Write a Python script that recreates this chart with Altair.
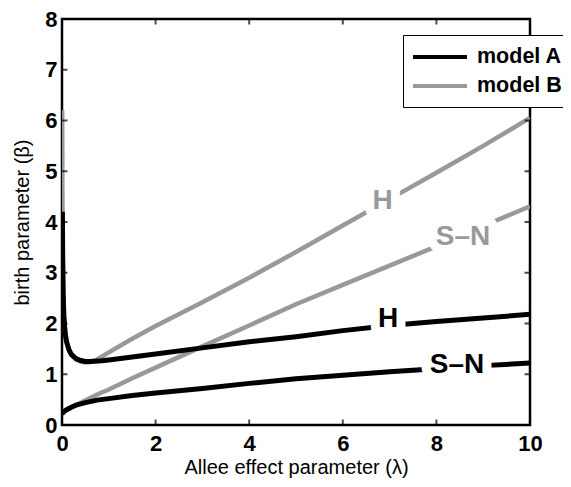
import altair as alt
import pandas as pd

# ---- curve data ----
# model A, Hopf curve (H)
a_h_x = [0.008, 0.015, 0.025, 0.04, 0.06, 0.08, 0.1, 0.15, 0.2, 0.3, 0.4, 0.5, 0.6, 0.7,
         0.85, 1.0, 1.5, 2.0, 3.0, 4.0, 5.0, 6.0, 7.0, 8.0, 9.0, 10.0]
a_h_y = [4.2, 3.3, 2.6, 2.15, 1.88, 1.73, 1.63, 1.48, 1.39, 1.31, 1.27, 1.25, 1.25, 1.255,
         1.265, 1.28, 1.34, 1.40, 1.52, 1.64, 1.74, 1.86, 1.96, 2.04, 2.11, 2.18]
# model A, saddle-node curve (S-N)
a_sn_x = [0.0, 0.05, 0.1, 0.2, 0.3, 0.5, 0.75, 1.0, 1.5, 2.0, 3.0, 4.0, 5.0, 6.0, 7.0, 8.0, 9.0, 10.0]
a_sn_y = [0.22, 0.27, 0.30, 0.35, 0.39, 0.44, 0.49, 0.52, 0.58, 0.63, 0.72, 0.82, 0.91, 0.98,
          1.05, 1.11, 1.17, 1.22]
# model B, Hopf curve (H)
b_h_x = [0.004, 0.008, 0.015, 0.025, 0.04, 0.06, 0.08, 0.1, 0.15, 0.2, 0.3, 0.4, 0.5, 0.6,
         0.75, 1.0, 1.5, 2.0, 3.0, 4.0, 5.0, 6.0, 7.0, 8.0, 9.0, 10.0]
b_h_y = [6.2, 4.6, 3.5, 2.75, 2.2, 1.9, 1.74, 1.63, 1.47, 1.38, 1.29, 1.25, 1.23, 1.24,
         1.29, 1.43, 1.70, 1.95, 2.42, 2.90, 3.41, 3.93, 4.45, 4.97, 5.50, 6.05]
# model B, saddle-node curve (S-N)
b_sn_x = [0.0, 0.1, 0.2, 0.4, 0.6, 0.8, 1.0, 1.5, 2.0, 3.0, 4.0, 5.0, 6.0, 7.0, 8.0, 9.0, 10.0]
b_sn_y = [0.25, 0.30, 0.35, 0.44, 0.53, 0.62, 0.70, 0.92, 1.13, 1.55, 1.96, 2.38, 2.76, 3.14,
          3.52, 3.92, 4.31]

models = ["model A", "model B"]

# curve labels
lab_text = ["H", "S\u2013N", "H", "S\u2013N"]
lab_model = ["model B", "model B", "model A", "model A"]
lab_x = [6.85, 8.57, 6.97, 8.44]
lab_y = [4.41, 3.71, 2.08, 1.18]

x_ticks = [0, 2, 4, 6, 8, 10]
y_ticks = [0, 1, 2, 3, 4, 5, 6, 7, 8]
x_domain = [0, 10]
y_domain = [0, 8]


def curve(xs, ys, model, name):
    return pd.DataFrame({"x": xs, "y": ys, "model": model, "curve": name})


df_a = pd.concat([curve(a_h_x, a_h_y, "model A", "A-H"), curve(a_sn_x, a_sn_y, "model A", "A-SN")])
df_b = pd.concat([curve(b_h_x, b_h_y, "model B", "B-H"), curve(b_sn_x, b_sn_y, "model B", "B-SN")])
df_lab = pd.DataFrame({"text": lab_text, "model": lab_model, "x": lab_x, "y": lab_y})
df_xt = pd.DataFrame([(t, e) for t in x_ticks for e in y_domain], columns=["x", "y"])
df_yt = pd.DataFrame([(e, t) for t in y_ticks for e in x_domain], columns=["x", "y"])

FONT = "Liberation Sans"

xs = alt.Scale(domain=x_domain, nice=False, zero=False)
ys = alt.Scale(domain=y_domain, nice=False, zero=False)

x_enc = alt.X("x:Q", scale=xs, axis=alt.Axis(
    values=x_ticks, title="Allee effect parameter (\u03bb)", format="d"))
y_enc = alt.Y("y:Q", scale=ys, axis=alt.Axis(
    values=y_ticks, title="birth parameter (\u03b2)", format="d"))

color = alt.Color("model:N",
                  scale=alt.Scale(domain=models, range=["#000000", "#999999"]),
                  legend=alt.Legend(title=None))

lines_b = alt.Chart(df_b).mark_line(strokeWidth=4.5, clip=True, strokeCap="butt").encode(
    x=x_enc, y=y_enc, color=color, detail="curve:N")
lines_a = alt.Chart(df_a).mark_line(strokeWidth=5, clip=True, strokeCap="butt").encode(
    x=x_enc, y=y_enc, color=color, detail="curve:N")

halo = alt.Chart(df_lab).mark_text(
    font=FONT, fontSize=28, fontWeight="bold", fill="white", stroke="white",
    strokeWidth=18, strokeJoin="round", baseline="middle", align="center"
).encode(x=x_enc, y=y_enc, text="text:N")

txt_b = alt.Chart(df_lab).transform_filter(alt.datum.model == "model B").mark_text(
    font=FONT, fontSize=28, fontWeight="bold", color="#999999", baseline="middle", align="center"
).encode(x=x_enc, y=y_enc, text="text:N")
txt_a = alt.Chart(df_lab).transform_filter(alt.datum.model == "model A").mark_text(
    font=FONT, fontSize=28, fontWeight="bold", color="#000000", baseline="middle", align="center"
).encode(x=x_enc, y=y_enc, text="text:N")

xt = alt.Chart(df_xt).mark_tick(orient="vertical", size=11, thickness=2, color="black",
                                clip=True).encode(x=x_enc, y=y_enc)
yt = alt.Chart(df_yt).mark_tick(orient="horizontal", size=11, thickness=2, color="black",
                                clip=True).encode(x=x_enc, y=y_enc)

chart = alt.layer(lines_b, lines_a, halo, txt_b, txt_a, xt, yt).properties(
    width=468, height=406,
    autosize=alt.AutoSizeParams(type="none"),
    padding={"left": 54, "top": 11, "right": 33, "bottom": 54},
).configure_view(
    stroke="black", strokeWidth=2.5
).configure_axis(
    grid=False, domain=False, ticks=False, tickSize=0, labelFlush=False,
    labelFont=FONT, labelFontSize=22, labelFontWeight="bold", labelColor="black",
    titleFont=FONT, titleFontSize=20, titleFontWeight="normal", titleColor="black",
).configure_axisX(
    labelPadding=8, titlePadding=3
).configure_axisY(
    labelPadding=5, titlePadding=12
).configure_legend(
    orient="none", legendX=341, legendY=16,
    strokeColor="black", fillColor="white", padding=10, cornerRadius=0,
    symbolType="M-2.7,0H2.7", symbolSize=400, symbolStrokeWidth=4,
    symbolOffset=15, labelOffset=25, rowPadding=6, labelLimit=400,
    labelFont=FONT, labelFontSize=21.5, labelFontWeight="bold", labelColor="black",
)

chart.save("out.html", embed_options={"renderer": "svg", "actions": False})
